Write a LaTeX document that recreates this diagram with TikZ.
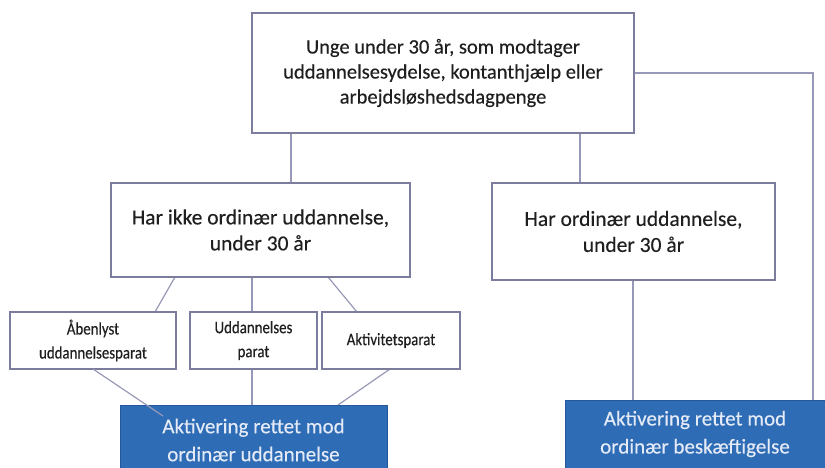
\documentclass[tikz,border=0pt]{standalone}
\usepackage{fontspec}
\setmainfont[FakeBold=0.3]{Carlito}
\newfontfamily\narrowfont[FakeStretch=0.85,FakeBold=0.3]{Carlito}
\definecolor{boxline}{HTML}{7C7C9C}
\definecolor{conn}{HTML}{9898B8}
\definecolor{bluefill}{HTML}{2E6DB6}
\definecolor{blueline}{HTML}{24589A}
\definecolor{bluetext}{HTML}{E4EAF6}
\begin{document}
\begin{tikzpicture}[x=1pt,y=-1pt,
  wbox/.style={draw=boxline,line width=1.2pt,fill=white,align=center,inner sep=0pt,font=\fontsize{20.5}{25}\selectfont,text=black!88},
  mbox/.style={wbox,font=\fontsize{21.5}{26}\selectfont},
  sbox/.style={wbox,font=\narrowfont\fontsize{17.5}{24}\selectfont},
  bbox/.style={draw=blueline,line width=1pt,fill=bluefill,align=center,inner sep=0pt,font=\fontsize{21}{28}\selectfont,text=bluetext},
  conn/.style={draw=conn,line width=1.2pt}]
\useasboundingbox (0,0) rectangle (825,467);
\clip (0,0) rectangle (825,467);
% connectors first
\coordinate (tl) at (291,133);
\coordinate (ml) at (291,183);
\coordinate (tr) at (580,133);
\coordinate (mr) at (580,183);
\coordinate (re) at (634,73);
\coordinate (rc) at (813,73);
\coordinate (rb) at (813,400);
\draw[conn] (tl) -- (ml);
\draw[conn] (tr) -- (mr);
\draw[conn] (re) -- (rc) -- (rb);
\draw[conn] (633,280) -- (633,400);
\draw[conn] (175,277) -- (155,312);
\draw[conn] (252,277) -- (252,312);
\draw[conn] (328,277) -- (357,312);
\draw[conn] (252,369) -- (252,405);
\draw[conn] (390,369) -- (338,405);
% boxes
\node[wbox,minimum width=382pt,minimum height=120pt] (top) at (443,73) {Unge under 30 år, som modtager\\uddannelsesydelse, kontanthjælp eller\\arbejdsløshedsdagpenge};
\node[mbox,minimum width=299pt,minimum height=94pt] (left) at (260.5,230) {Har ikke ordinær uddannelse,\\under 30 år};
\node[mbox,minimum width=283pt,minimum height=97pt] (right) at (633.5,231.5) {Har ordinær uddannelse,\\under 30 år};
\node[sbox,minimum width=166pt,minimum height=57pt] (s1) at (93,340.5) {Åbenlyst\\uddannelsesparat};
\node[sbox,minimum width=127pt,minimum height=57pt] (s2) at (253.5,340.5) {Uddannelses\\parat};
\node[sbox,minimum width=138pt,minimum height=57pt] (s3) at (391,340.5) {Aktivitetsparat};
\node[bbox,minimum width=267pt,minimum height=70pt] (b1) at (253.5,440) {Aktivering rettet mod\\ordinær uddannelse};
\node[bbox,minimum width=260pt,minimum height=68pt] (b2) at (695,434) {Aktivering rettet mod\\ordinær beskæftigelse};
\draw[conn] (93,369) -- (163,416);
\end{tikzpicture}
\end{document}
